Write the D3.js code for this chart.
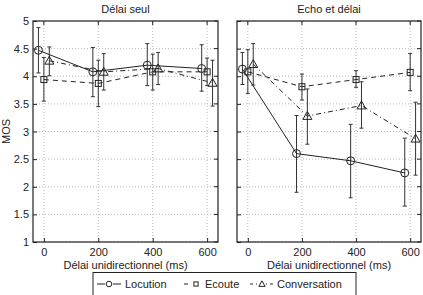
<!DOCTYPE html>
<html><head><meta charset="utf-8">
<script src="https://cdn.jsdelivr.net/npm/d3@7"></script>
<style>body{margin:0;background:#fff}svg{display:block;font-family:"Liberation Sans",Arial,sans-serif}</style>
</head><body>
<svg id="c" width="423" height="295"></svg>
<script>
const panels = ["Délai seul", "Echo et délai"];
const delays = [0, 200, 400, 600];
const seriesNames = ["Locution", "Ecoute", "Conversation"];
const offsets = [-20, 0, 20];
// [panel][series] mean values
const locMean = [[4.47, 4.08, 4.20, 4.14], [4.13, 2.60, 2.47, 2.25]];
const locLow  = [[4.06, 3.63, 3.83, 3.73], [3.85, 1.90, 1.80, 1.65]];
const locHigh = [[4.88, 4.52, 4.59, 4.57], [4.43, 3.29, 3.13, 2.88]];
const ecoMean = [[3.94, 3.87, 4.08, 4.08], [4.08, 3.81, 3.94, 4.07]];
const ecoLow  = [[3.55, 3.45, 3.75, 3.83], [3.69, 3.57, 3.80, 3.74]];
const ecoHigh = [[4.34, 4.29, 4.40, 4.33], [4.48, 4.04, 4.10, 4.41]];
const conMean = [[4.28, 4.08, 4.14, 3.88], [4.22, 3.28, 3.47, 2.87]];
const conLow  = [[4.01, 3.75, 3.85, 3.46], [3.84, 2.77, 3.06, 2.21]];
const conHigh = [[4.53, 4.41, 4.43, 4.29], [4.59, 3.77, 3.90, 3.53]];
const yTicks = [1, 1.5, 2, 2.5, 3, 3.5, 4, 4.5, 5];
const xTicks = [0, 200, 400, 600];

const means = [locMean, ecoMean, conMean];
const lows = [locLow, ecoLow, conLow];
const highs = [locHigh, ecoHigh, conHigh];
const dashes = [null, "5,4", "5,3,1,3"];

const svg = d3.select("#c");
const y = d3.scaleLinear().domain([1, 5]).range([242, 21]);
const panelX = [[33, 218], [237, 421]];

panelX.forEach((px, p) => {
  const x = d3.scaleLinear().domain([-40, 640]).range(px);
  const g = svg.append("g");
  // grid
  g.selectAll(".gy").data(yTicks).join("line")
    .attr("x1", px[0]).attr("x2", px[1]).attr("y1", d => y(d)).attr("y2", d => y(d))
    .attr("stroke", "#bbb").attr("stroke-dasharray", "1,2").attr("stroke-width", 1);
  g.selectAll(".gx").data(xTicks).join("line")
    .attr("x1", d => x(d)).attr("x2", d => x(d)).attr("y1", y(1)).attr("y2", y(5))
    .attr("stroke", "#bbb").attr("stroke-dasharray", "1,2").attr("stroke-width", 1);
  // axes
  const ya = d3.axisLeft(y).tickValues(yTicks).tickSize(-4).tickPadding(4)
    .tickFormat(p === 0 ? d3.format("") : () => "");
  const gy = g.append("g").attr("transform", `translate(${px[0]},0)`).call(ya);
  const xa = d3.axisBottom(x).tickValues(xTicks).tickSize(-4).tickPadding(6);
  const gx = g.append("g").attr("transform", `translate(0,${y(1)})`).call(xa);
  [gy, gx].forEach(a => {
    a.select(".domain").remove();
    a.selectAll("text").attr("font-size", 11).attr("fill", "#222").attr("font-family", "Liberation Sans, Arial, sans-serif");
    a.selectAll(".tick line").attr("stroke", "#222");
  });
  // right ticks + top ticks
  g.selectAll(".ry").data(yTicks).join("line")
    .attr("x1", px[1]).attr("x2", px[1] - 4).attr("y1", d => y(d)).attr("y2", d => y(d)).attr("stroke", "#222");
  g.selectAll(".tx").data(xTicks).join("line")
    .attr("x1", d => x(d)).attr("x2", d => x(d)).attr("y1", y(5)).attr("y2", y(5) + 4).attr("stroke", "#222");
  // frame
  g.append("rect").attr("x", px[0]).attr("y", y(5)).attr("width", px[1] - px[0]).attr("height", y(1) - y(5))
    .attr("fill", "none").attr("stroke", "#222").attr("stroke-width", 1.2);
  // title
  g.append("text").attr("x", (px[0] + px[1]) / 2).attr("y", 13).attr("text-anchor", "middle")
    .attr("font-size", 11).attr("fill", "#222").text(panels[p]);
  g.append("text").attr("x", (px[0] + px[1]) / 2).attr("y", 269).attr("text-anchor", "middle")
    .attr("font-size", 11).attr("fill", "#222").text("Délai unidirectionnel (ms)");

  // series
  seriesNames.forEach((s, si) => {
    const pts = delays.map((d, i) => ({
      x: x(d + offsets[si]), m: y(means[si][p][i]), lo: y(lows[si][p][i]), hi: y(highs[si][p][i])
    }));
    // error bars
    const eb = g.append("g").attr("stroke", "#333").attr("stroke-width", 1);
    pts.forEach(pt => {
      eb.append("line").attr("x1", pt.x).attr("x2", pt.x).attr("y1", pt.lo).attr("y2", pt.hi);
      eb.append("line").attr("x1", pt.x - 2).attr("x2", pt.x + 2).attr("y1", pt.lo).attr("y2", pt.lo);
      eb.append("line").attr("x1", pt.x - 2).attr("x2", pt.x + 2).attr("y1", pt.hi).attr("y2", pt.hi);
    });
    const line = d3.line().x(d => d.x).y(d => d.m);
    g.append("path").datum(pts).attr("d", line).attr("fill", "none").attr("stroke", "#222")
      .attr("stroke-width", 1).attr("stroke-dasharray", dashes[si]);
    pts.forEach(pt => drawMarker(g, si, pt.x, pt.m, 1));
  });
});

function drawMarker(g, si, cx, cy, sc) {
  if (si === 0) {
    g.append("circle").attr("cx", cx).attr("cy", cy).attr("r", 4 * sc).attr("fill", "none").attr("stroke", "#222");
  } else if (si === 1) {
    const s = 3 * sc;
    g.append("rect").attr("x", cx - s).attr("y", cy - s).attr("width", 2 * s).attr("height", 2 * s)
      .attr("fill", "none").attr("stroke", "#222");
  } else {
    const s = 4.5 * sc;
    g.append("path").attr("d", `M${cx},${cy - s}L${cx + s},${cy + s * 0.75}L${cx - s},${cy + s * 0.75}Z`)
      .attr("fill", "none").attr("stroke", "#222");
  }
}

// MOS label
svg.append("text").attr("transform", `translate(10,${(y(1) + y(5)) / 2}) rotate(-90)`)
  .attr("text-anchor", "middle").attr("font-size", 11).attr("fill", "#222").text("MOS");

// legend
const lg = svg.append("g");
lg.append("rect").attr("x", 93).attr("y", 272.5).attr("width", 263).attr("height", 30)
  .attr("fill", "#fff").attr("stroke", "#222").attr("stroke-width", 1);
const legX = [97, 184, 250];
const legText = [125, 205, 277];
seriesNames.forEach((s, si) => {
  const x0 = legX[si], yy = 284;
  lg.append("line").attr("x1", x0).attr("x2", x0 + 24).attr("y1", yy).attr("y2", yy)
    .attr("stroke", "#222").attr("stroke-dasharray", dashes[si] ? (si === 1 ? "4,8" : "3,3,1,3") : null);
  const m = lg.append("g");
  m.append("rect").attr("x", x0 + 8).attr("y", yy - 4).attr("width", 8).attr("height", 8).attr("fill", "#fff");
  drawMarker(m, si, x0 + 12, yy, 0.7);
  lg.append("text").attr("x", legText[si]).attr("y", yy + 4).attr("font-size", 11).attr("fill", "#222").text(s);
});
</script>
</body></html>
